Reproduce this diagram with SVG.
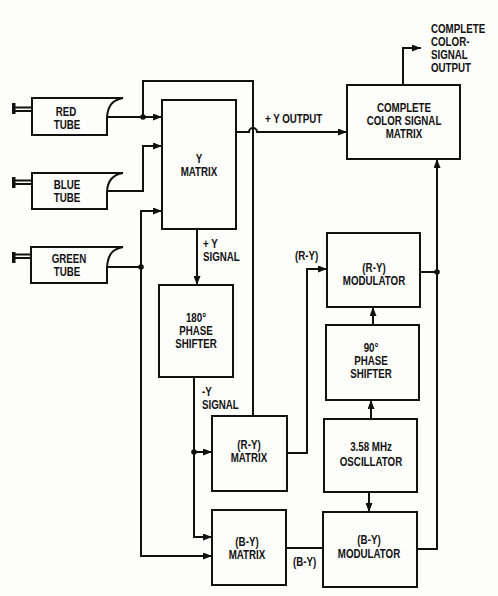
<svg xmlns="http://www.w3.org/2000/svg" width="498" height="596" viewBox="0 0 498 596">
<defs>
<marker id="ah" markerWidth="9" markerHeight="7" refX="9" refY="3.5" orient="auto" markerUnits="userSpaceOnUse">
<path d="M0,0 L9,3.5 L0,7 Z" fill="#111"/>
</marker>
<style>
.b{fill:none;stroke:#111;stroke-width:2}
.w{fill:none;stroke:#111;stroke-width:1.8}
.t{font-family:"Liberation Sans",Arial,sans-serif;font-weight:bold;font-size:13px;fill:#111}
.c{text-anchor:middle}
.d{fill:#111}
</style>
</defs>
<rect width="498" height="596" fill="#fdfdfb"/>

<g id="red-tube">
<path class="b" d="M123,98 C112,100 108,106 107,117 L107,135 L32,135 L32,98 Z"/>
<path class="w" d="M32,107.5 H14 M32,111 H14"/>
<path d="M12,103 H15.5 V114 H12 Z" class="d"/>
<text class="t c" transform="translate(66,116) scale(.75,1)">RED</text>
<text class="t c" transform="translate(67,129) scale(.75,1)">TUBE</text>
</g>
<g id="blue-tube">
<path class="b" d="M123,173 C112,175 108,181 107,191 L107,209 L32,209 L32,173 Z"/>
<path class="w" d="M32,180.5 H14 M32,184 H14"/>
<path d="M12,177 H15.5 V188 H12 Z" class="d"/>
<text class="t c" transform="translate(67,189) scale(.75,1)">BLUE</text>
<text class="t c" transform="translate(67,202) scale(.75,1)">TUBE</text>
</g>
<g id="green-tube">
<path class="b" d="M123,247 C112,249 108,255 107,267 L107,283 L31,283 L31,247 Z"/>
<path class="w" d="M31,254.5 H14 M31,258 H14"/>
<path d="M12,252 H15.5 V263 H12 Z" class="d"/>
<text class="t c" transform="translate(69,263) scale(.75,1)">GREEN</text>
<text class="t c" transform="translate(67,276) scale(.75,1)">TUBE</text>
</g>

<g id="y-matrix">
<rect class="b" x="162" y="100" width="74" height="129"/>
<text class="t c" transform="translate(199,163) scale(.75,1)">Y</text>
<text class="t c" transform="translate(199,176) scale(.75,1)">MATRIX</text>
</g>
<g id="phase-180">
<rect class="b" x="159" y="285" width="74" height="92"/>
<text class="t c" transform="translate(196,322) scale(.75,1)">180°</text>
<text class="t c" transform="translate(196,335) scale(.75,1)">PHASE</text>
<text class="t c" transform="translate(196,348) scale(.75,1)">SHIFTER</text>
</g>
<g id="ry-matrix">
<rect class="b" x="212" y="416" width="75" height="75"/>
<text class="t c" transform="translate(249,449) scale(.75,1)">(R-Y)</text>
<text class="t c" transform="translate(249,462) scale(.75,1)">MATRIX</text>
</g>
<g id="by-matrix">
<rect class="b" x="212" y="510" width="74" height="75"/>
<text class="t c" transform="translate(247,546) scale(.75,1)">(B-Y)</text>
<text class="t c" transform="translate(247,559) scale(.75,1)">MATRIX</text>
</g>
<g id="complete-matrix">
<rect class="b" x="347" y="85" width="113" height="74"/>
<text class="t c" transform="translate(404,112) scale(.75,1)">COMPLETE</text>
<text class="t c" transform="translate(404,125) scale(.75,1)">COLOR SIGNAL</text>
<text class="t c" transform="translate(404,138) scale(.75,1)">MATRIX</text>
</g>
<g id="ry-modulator">
<rect class="b" x="327" y="233" width="93" height="74"/>
<text class="t c" transform="translate(374,272) scale(.75,1)">(R-Y)</text>
<text class="t c" transform="translate(374,285) scale(.75,1)">MODULATOR</text>
</g>
<g id="phase-90">
<rect class="b" x="326" y="325" width="93" height="75"/>
<text class="t c" transform="translate(371,352) scale(.75,1)">90°</text>
<text class="t c" transform="translate(371,365) scale(.75,1)">PHASE</text>
<text class="t c" transform="translate(371,378) scale(.75,1)">SHIFTER</text>
</g>
<g id="oscillator">
<rect class="b" x="324" y="419" width="93" height="73"/>
<text class="t c" transform="translate(371,451) scale(.75,1)">3.58 MHz</text>
<text class="t c" transform="translate(371,466) scale(.75,1)">OSCILLATOR</text>
</g>
<g id="by-modulator">
<rect class="b" x="323" y="512" width="94" height="75"/>
<text class="t c" transform="translate(369,544) scale(.75,1)">(B-Y)</text>
<text class="t c" transform="translate(369,558) scale(.75,1)">MODULATOR</text>
</g>

<g id="connectors">
<path class="b" d="M107,117 H162" marker-end="url(#ah)"/>
<path class="b" d="M143,117 V81 H253 V416"/>
<circle class="d" cx="143" cy="117" r="2.8"/>
<path class="b" d="M107,191 H143 V146 H162" marker-end="url(#ah)"/>
<path class="b" d="M107,267 H141 V211 H162" marker-end="url(#ah)"/>
<path class="b" d="M141,267 V556 H212" marker-end="url(#ah)"/>
<circle class="d" cx="141" cy="267" r="2.8"/>
<path class="b" d="M197,229 V285" marker-end="url(#ah)"/>
<path class="b" d="M194,377 V537 H212" marker-end="url(#ah)"/>
<path class="b" d="M194,452 H212" marker-end="url(#ah)"/>
<circle class="d" cx="194" cy="452" r="2.8"/>
<path class="b" d="M236,132 H249 A4,4 0 0 1 257,132 H347" marker-end="url(#ah)"/>
<path class="b" d="M287,453 H307 V269 H327" marker-end="url(#ah)"/>
<path class="b" d="M286,548 H323"/>
<path class="b" d="M369,492 V512" marker-end="url(#ah)"/>
<path class="b" d="M371,419 V400" marker-end="url(#ah)"/>
<path class="b" d="M373,325 V307" marker-end="url(#ah)"/>
<path class="b" d="M420,272 H437"/>
<circle class="d" cx="437" cy="272" r="2.8"/>
<path class="b" d="M417,549 H437 V159" marker-end="url(#ah)"/>
<path class="b" d="M403,85 V48 H421" marker-end="url(#ah)"/>
</g>

<g id="labels">
<text class="t" transform="translate(265,123) scale(.75,1)">+ Y OUTPUT</text>
<text class="t" transform="translate(203,248) scale(.75,1)">+ Y</text>
<text class="t" transform="translate(203,261) scale(.75,1)">SIGNAL</text>
<text class="t" transform="translate(202,396) scale(.75,1)">-Y</text>
<text class="t" transform="translate(202,409) scale(.75,1)">SIGNAL</text>
<text class="t" transform="translate(295,260) scale(.75,1)">(R-Y)</text>
<text class="t" transform="translate(293,566) scale(.75,1)">(B-Y)</text>
<text class="t" transform="translate(431,33) scale(.75,1)">COMPLETE</text>
<text class="t" transform="translate(431,46) scale(.75,1)">COLOR-</text>
<text class="t" transform="translate(431,59) scale(.75,1)">SIGNAL</text>
<text class="t" transform="translate(431,72) scale(.75,1)">OUTPUT</text>
</g>
</svg>
